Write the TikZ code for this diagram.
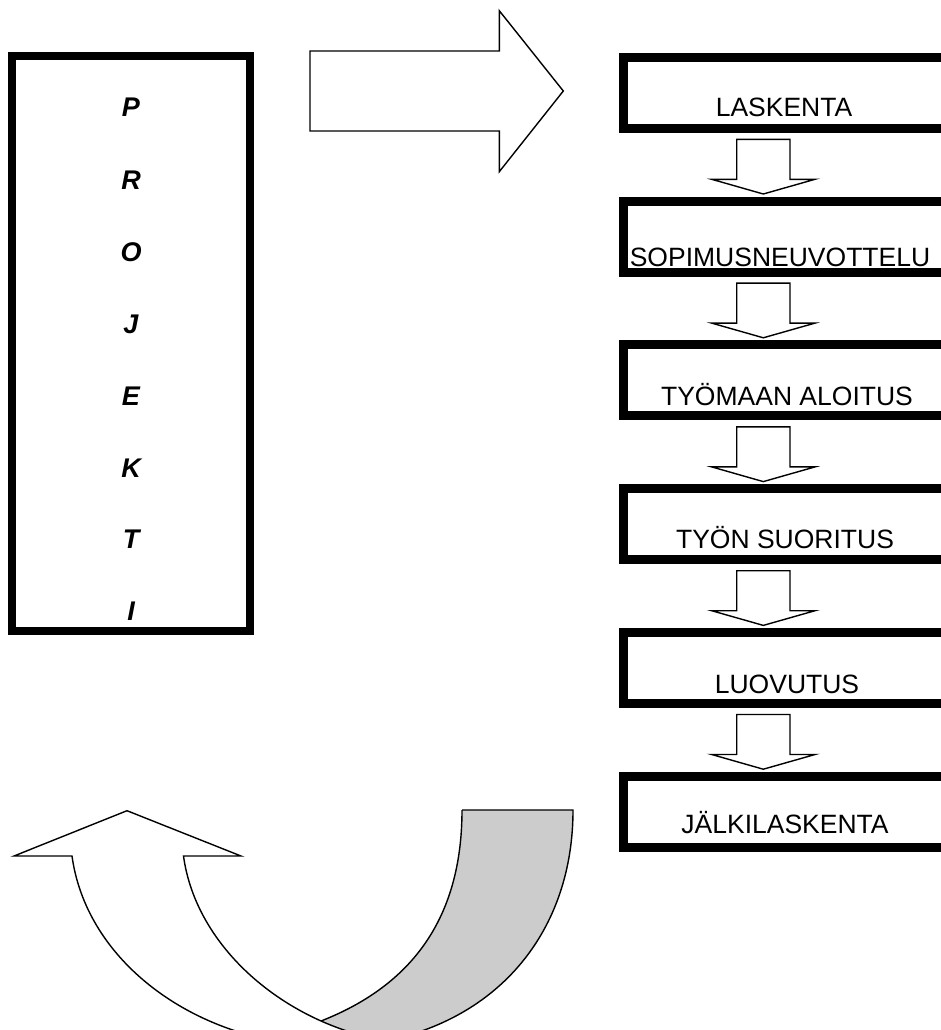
\documentclass[tikz,border=0pt]{standalone}
\usepackage{fontspec}
\setmainfont{Liberation Sans}
\definecolor{bandgray}{RGB}{204,204,204}
\begin{document}
\begin{tikzpicture}[x=1pt,y=-1pt,
  rbox/.style={draw, line width=9pt, rectangle, minimum width=340pt, minimum height=71pt, inner sep=0pt},
  pbox/.style={draw, line width=8.5pt, rectangle, minimum width=238pt, minimum height=574.5pt, inner sep=0pt},
  lbl/.style={font=\fontsize{26.5}{30}\selectfont, anchor=base, inner sep=0pt},
  letter/.style={font=\fontsize{27}{30}\selectfont\bfseries\itshape, anchor=base, inner sep=0pt},
  blk/.style={draw, line width=1.4pt, fill=white, line join=miter}]
\useasboundingbox (0,0) rectangle (941,1030);
\begin{scope}
\clip (0,0) rectangle (941,1030);
% left PROJEKTI box
\node[pbox] (proj) at (131,343.5) {};
\node[letter] (l1) at (131,117) {P};
\node[letter] (l2) at (131,189) {R};
\node[letter] (l3) at (131,261) {O};
\node[letter] (l4) at (131,333) {J};
\node[letter] (l5) at (131,405) {E};
\node[letter] (l6) at (131,477) {K};
\node[letter] (l7) at (131,548) {T};
\node[letter] (l8) at (131,620) {I};
% big right arrow
\draw[blk] (310,51) -- (499.3,51) -- (499.3,10.7) -- (563.3,91) -- (499.3,171.7) -- (499.3,131) -- (310,131) -- cycle;
% right boxes
\node[rbox] (b1) at (793.2,92.7) {};
\node[rbox] (b2) at (793.2,236.5) {};
\node[rbox] (b3) at (793.2,380.3) {};
\node[rbox] (b4) at (793.2,524.1) {};
\node[rbox] (b5) at (793.2,667.9) {};
\node[rbox] (b6) at (793.2,811.7) {};
\node[lbl] (t1) at (784,117) {LASKENTA};
\node[lbl] (t2) at (780,266) {SOPIMUSNEUVOTTELU};
\node[lbl] (t3) at (787,405) {TYÖMAAN ALOITUS};
\node[lbl] (t4) at (785,548.5) {TYÖN SUORITUS};
\node[lbl] (t5) at (787,693) {LUOVUTUS};
\node[lbl] (t6) at (785,833.5) {JÄLKILASKENTA};
% small down arrows
\foreach \T in {52.7,196.5,340.3,484.1,627.9} {
  \draw[blk] (736.7,{\T+86.6}) -- (790,{\T+86.6}) -- (790,{\T+126.6}) -- (815,{\T+126.6}) -- (763.3,{\T+141.3}) -- (711.7,{\T+126.6}) -- (736.7,{\T+126.6}) -- cycle;
}
% curved arrow: grey back band
\fill[bandgray] (462,810) -- (573,810) .. controls (573,930) and (500,1020) .. (380,1042) -- (340,1060) -- (321,1021) .. controls (400,990) and (462,930) .. (462,810) -- cycle;
\draw[line width=1.4pt] (462,810) -- (573,810) .. controls (573,930) and (500,1020) .. (380,1042);
\draw[line width=1.4pt] (462,810) .. controls (462,930) and (400,990) .. (321,1021);
% curved arrow: white front band with head
\draw[blk] (14,856) -- (127,810.7) -- (241,856) -- (183.5,856) .. controls (195,940) and (270,1010) .. (360,1035) -- (270,1040) .. controls (170,1020) and (85,950) .. (72,856) -- cycle;
\end{scope}
\end{tikzpicture}
\end{document}
